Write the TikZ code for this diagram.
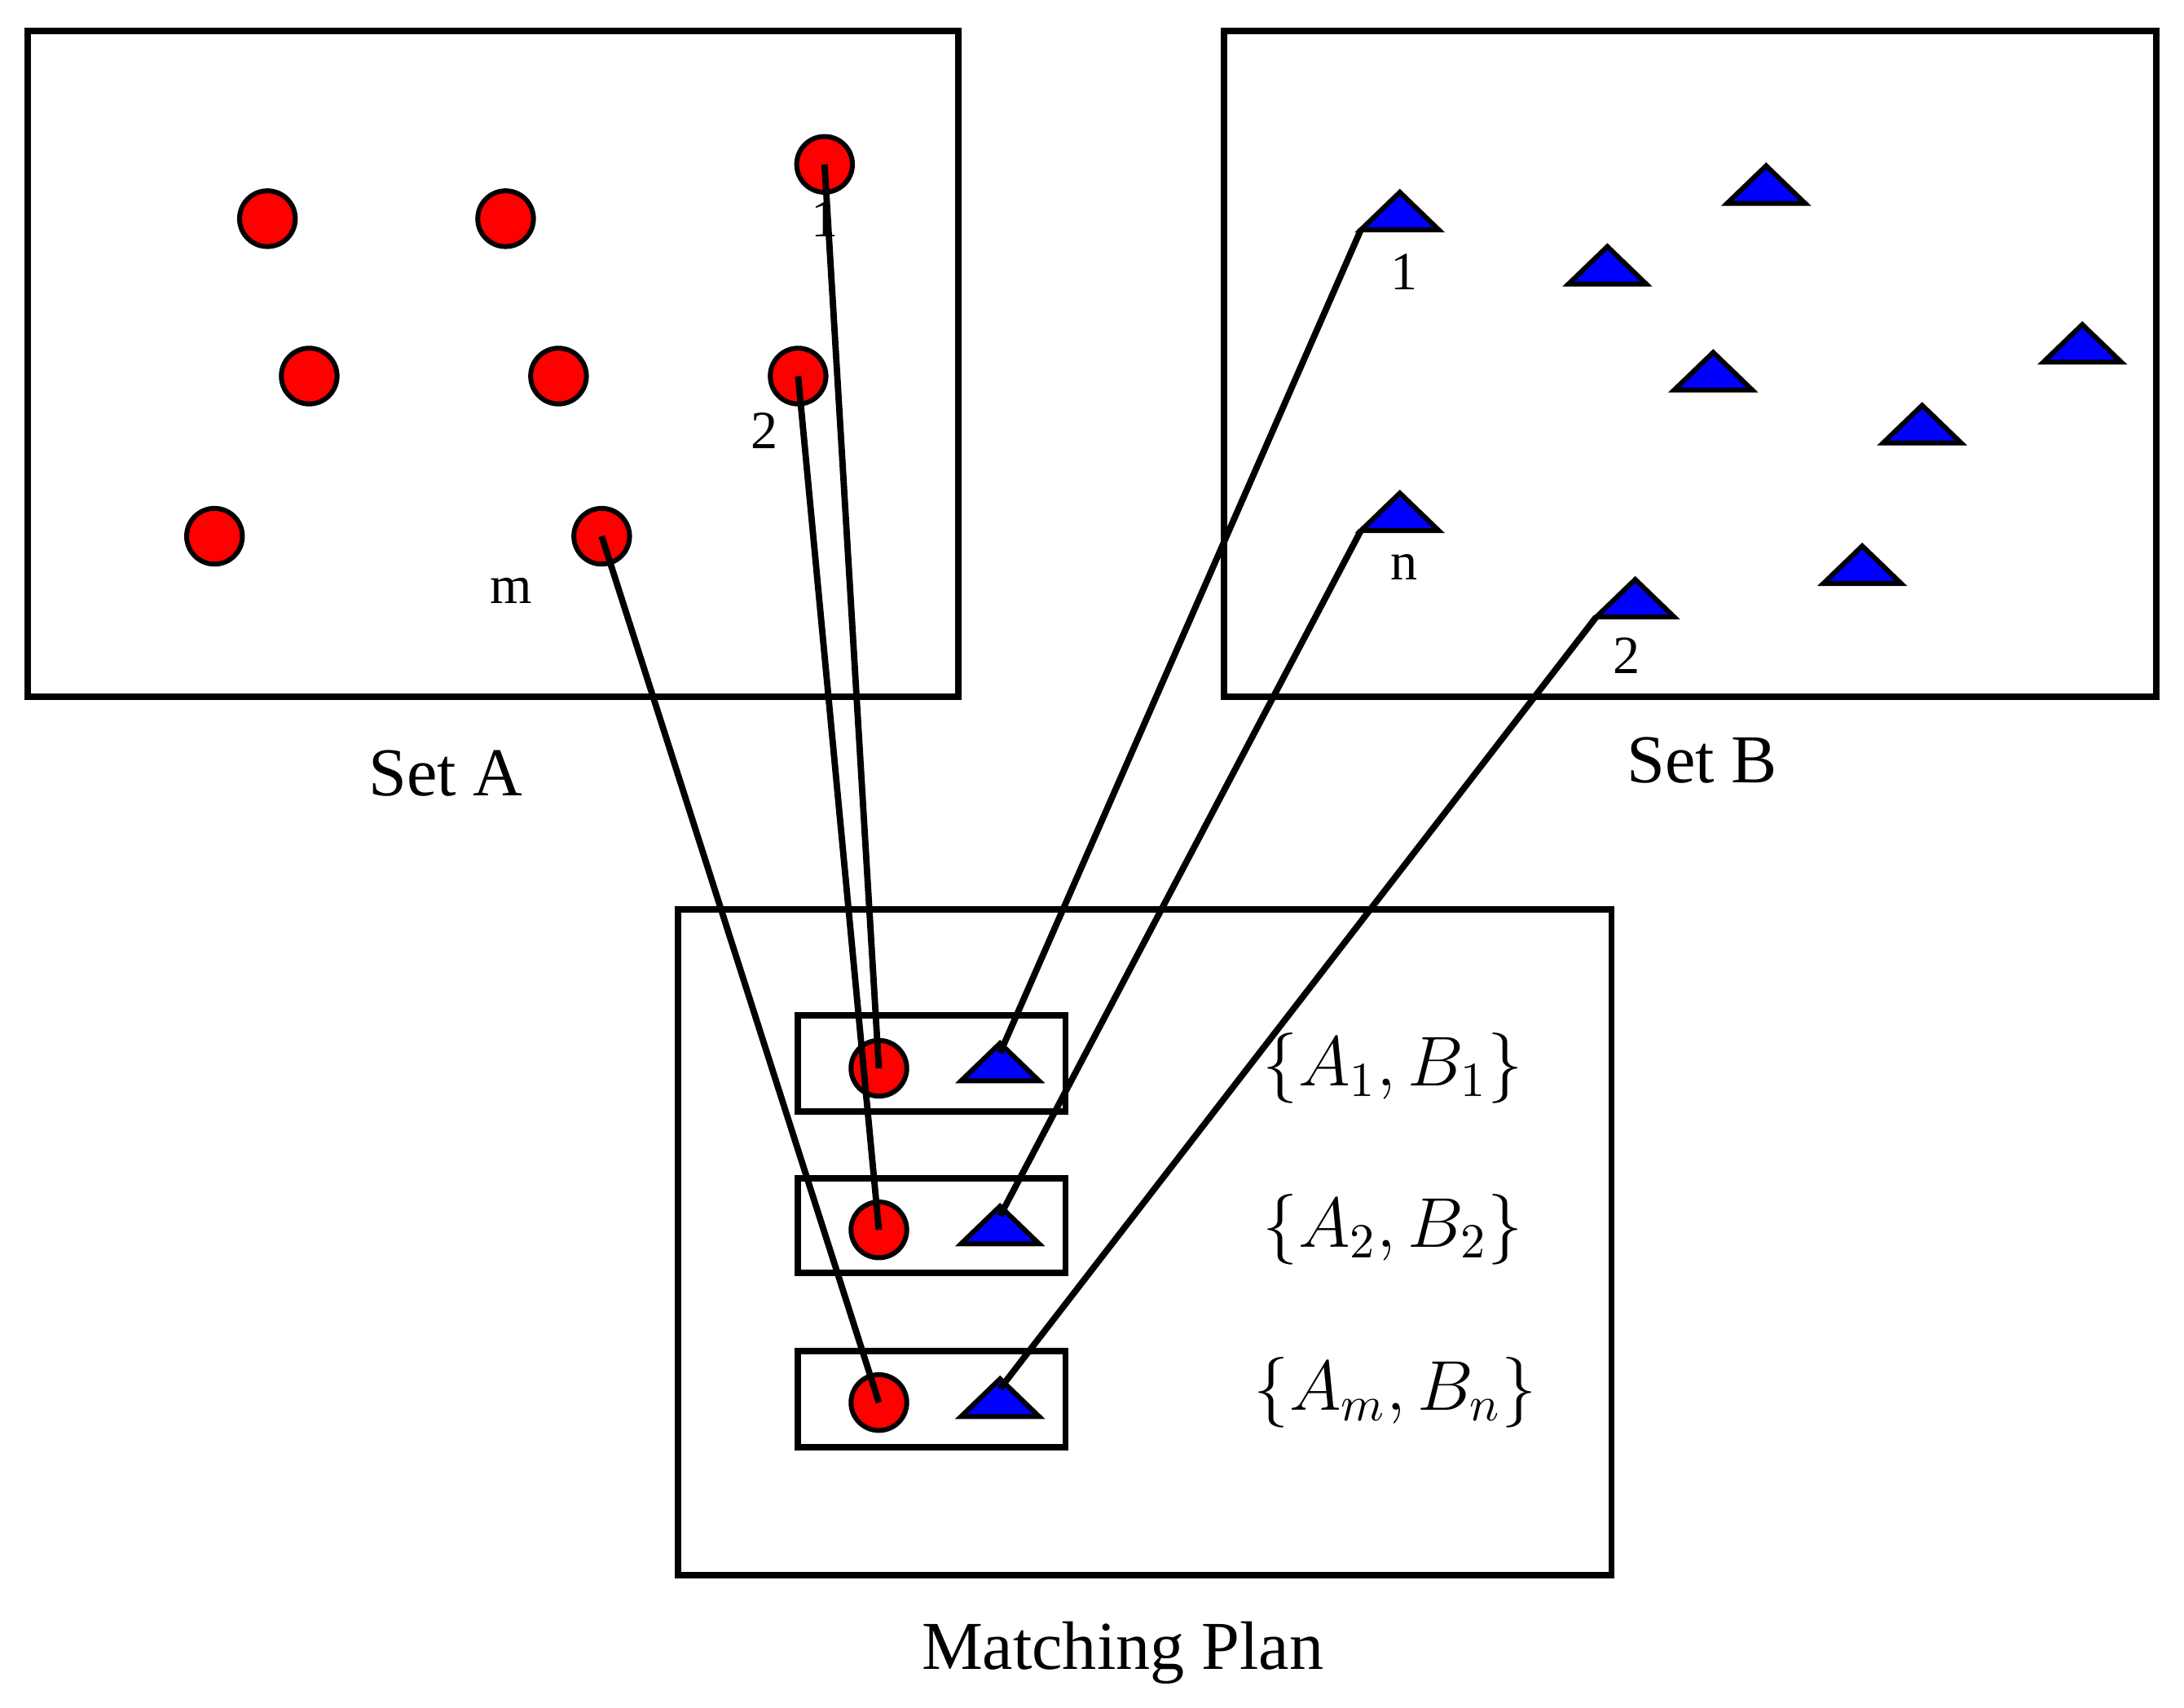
\documentclass[tikz,border=0pt]{standalone}
\usepackage{fontspec}
\setmainfont{Liberation Serif}
\usetikzlibrary{calc}
\begin{document}
\begin{tikzpicture}[x=0.01cm,y=-0.01cm,
  box/.style={draw,line width=1.3pt},
  dot/.style={circle,draw,fill=red,line width=1pt,minimum size=0.4cm,inner sep=0pt},
  link/.style={line width=1.3pt},
  lab/.style={font=\fontsize{11}{13}\selectfont},
  big/.style={font=\fontsize{14}{16}\selectfont}]
\useasboundingbox (0,0) rectangle (1568,1226);
\newcommand\mytri[2]{% name, base-center x,y
  \coordinate (#1) at #2;
  \draw[fill=blue,line width=1pt] ($(#1)+(-28,0)$) -- ($(#1)+(28,0)$) -- ($(#1)+(0,-27)$) -- cycle;
  \coordinate (#1l) at ($(#1)+(-28,0)$);
  \coordinate (#1t) at ($(#1)+(0,-20)$);}
\draw[box] (20,22) rectangle (688,500);
\draw[box] (879,22) rectangle (1548,500);
\draw[box] (487,653) rectangle (1157,1131);
\node[big] (sa) at (320,555) {Set A};
\node[big] (sb) at (1222,546) {Set B};
\node[big] (mp) at (806,1187) {Matching Plan};
% set A
\node[dot] (a1) at (592,118) {};
\node[dot] at (192,157) {}; \node[dot] at (363,157) {};
\node[dot] at (222,270) {}; \node[dot] at (401,270) {};
\node[dot] (a2) at (573,270) {};
\node[dot] at (154,385) {};
\node[dot] (am) at (432,385) {};
\node[lab] at (592,157) {1};
\node[lab] at (549,309) {2};
\node[lab] at (367,424) {m};
% set B
\mytri{b1}{(1005,165)}
\mytri{bx1}{(1268,146)}
\mytri{bx2}{(1154,204)}
\mytri{bx3}{(1230,280)}
\mytri{bx4}{(1495,260)}
\mytri{bx5}{(1380,318)}
\mytri{bn}{(1005,381)}
\mytri{bx6}{(1337,419)}
\mytri{b2}{(1174,443)}
\node[lab] at (1008,195) {1};
\node[lab] at (1008,407) {n};
\node[lab] at (1168,471) {2};
% matching plan
\draw[box] (573,729) rectangle (765,798);
\draw[box] (573,846) rectangle (765,914);
\draw[box] (573,970) rectangle (765,1039);
\node[dot] (p1) at (631,767) {};
\node[dot] (p2) at (631,883) {};
\node[dot] (p3) at (631,1007) {};
\mytri{q1}{(718,776)}
\mytri{q2}{(718,893)}
\mytri{q3}{(718,1017)}
\node[big] at (1000,767) {$\left\{A_1,B_1\right\}$};
\node[big] at (1000,883) {$\left\{A_2,B_2\right\}$};
\node[big] at (1002,1000) {$\left\{A_m,B_n\right\}$};
% links
\draw[link] (a1.center) -- (p1.center);
\draw[link] (a2.center) -- (p2.center);
\draw[link] (am.center) -- (p3.center);
\draw[link] (b1l) -- (q1t);
\draw[link] (bnl) -- (q2t);
\draw[link] (b2l) -- (q3t);
\end{tikzpicture}
\end{document}
